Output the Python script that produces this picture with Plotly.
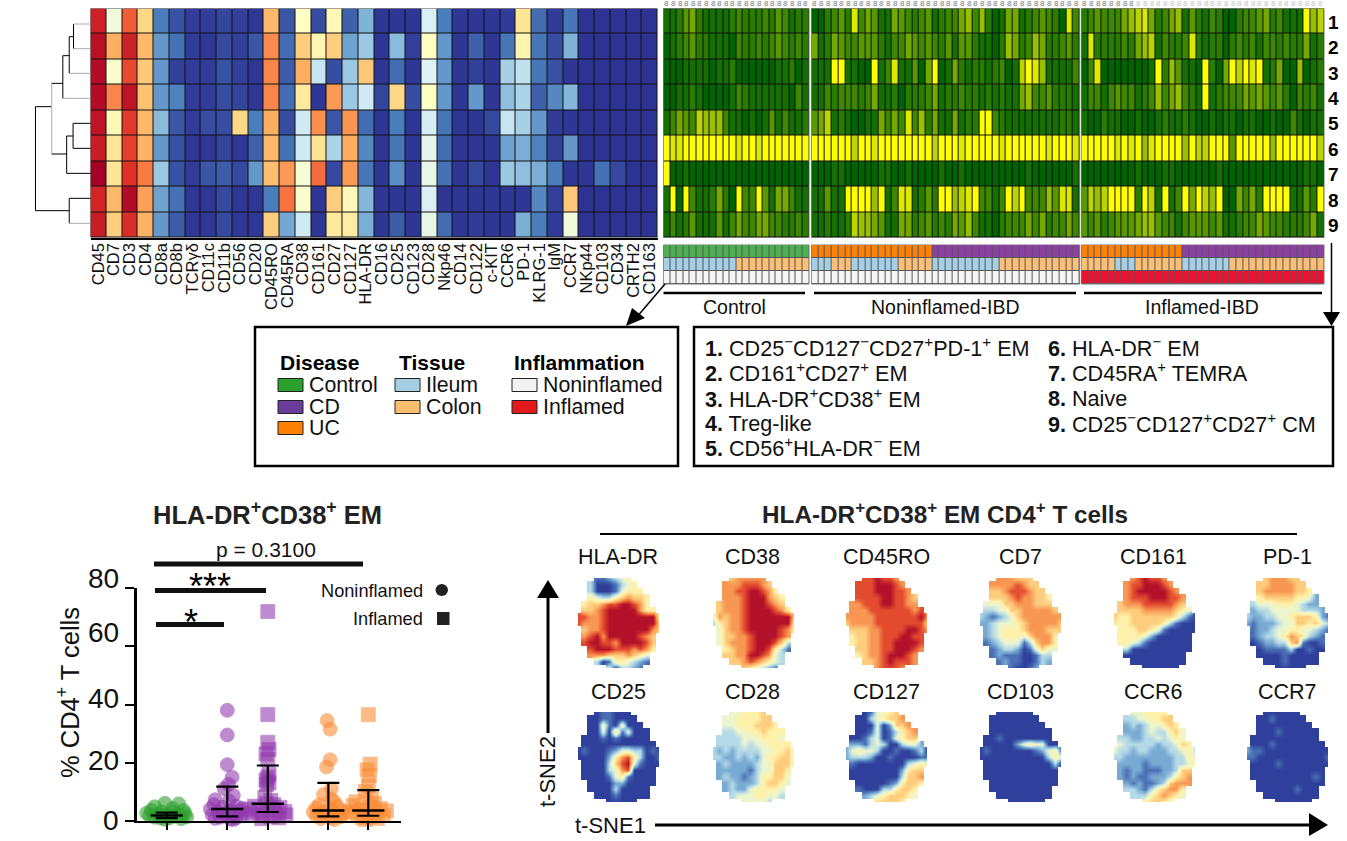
import plotly.graph_objects as go

W, H = 1347, 841
FONT = "Liberation Sans"

# ---------- marker heatmap ----------
markers = ["CD45","CD7","CD3","CD4","CD8a","CD8b","TCRγδ","CD11c","CD11b","CD56","CD20","CD45RO","CD45RA","CD38","CD161","CD27","CD127","HLA-DR","CD16","CD25","CD123","CD28","Nkp46","CD14","CD122","c-KIT","CCR6","PD-1","KLRG-1","IgM","CCR7","NKp44","CD103","CD34","CRTH2","CD163"]
marker_r1 = [.92,.47,.82,.60,.15,.07,.02,.02,.04,.03,.01,.66,.08,.50,.06,.52,.10,.25,.01,.01,.01,.42,.15,.01,.01,.01,.02,.57,.12,.02,.14,0,0,0,0,0]
marker_r2 = [.96,.68,.92,.66,.20,.13,.02,.01,.05,.03,.08,.75,.12,.62,.53,.62,.22,.30,.01,.27,.03,.50,.20,.01,.10,.01,.14,.53,.14,.06,.25,0,0,0,0,0]
marker_r3 = [.97,.49,.85,.63,.20,.03,.02,.02,.07,.03,.01,.76,.09,.68,.38,.06,.30,.63,.01,.12,.01,.43,.20,.01,.03,.01,.32,.37,.14,.07,.01,0,0,0,0,0]
marker_r4 = [.97,.76,.95,.64,.20,.16,.02,.02,.06,.04,.01,.76,.12,.56,.01,.72,.30,.40,.04,.60,.06,.50,.20,.01,.20,.01,.28,.33,.10,.17,.26,0,0,0,0,0]
marker_r5 = [.95,.52,.87,.66,.27,.08,.02,.06,.06,.60,.15,.68,.06,.40,.74,.08,.73,.12,.01,.15,.01,.41,.14,.01,.01,.05,.38,.32,.20,.02,.01,0,0,0,0,0]
marker_r6 = [.93,.57,.86,.67,.20,.07,.01,.01,.04,.01,.10,.66,.13,.40,.58,.33,.68,.17,.01,.14,.01,.44,.12,.01,.01,.01,.22,.24,.16,.03,.20,0,0,0,0,0]
marker_r7 = [1,.57,.88,.78,.30,.07,.02,.08,.09,.05,.20,.65,.72,.48,.80,.05,.72,.14,.01,.18,.01,.45,.13,.01,.05,.01,.30,.28,.24,.15,.01,.01,.13,.05,0,0]
marker_r8 = [.91,.66,.97,.71,.22,.13,.01,.01,.05,.01,.01,.15,.79,.49,.01,.62,.52,.26,.01,.01,.01,.42,.01,.01,.01,.01,.01,.01,.17,.03,.63,0,0,0,0,0]
marker_r9 = [.93,.62,.89,.67,.20,.09,.01,.01,.05,.01,.01,.62,.23,.40,.01,.56,.55,.24,.01,.09,.01,.45,.12,.01,.02,.01,.01,.24,.15,.02,.47,0,0,0,0,0]
marker_z = [marker_r1,marker_r2,marker_r3,marker_r4,marker_r5,marker_r6,marker_r7,marker_r8,marker_r9]
cluster_ids = ["1","2","3","4","5","6","7","8","9"]

# ---------- cluster abundance per sample ----------
control_rows = [
 [1,1,2,4,5,2,1,1,1,1,2,3,2,2,2,3,2,4,3,1,2,2],
 [0,1,2,3,4,2,2,1,1,1,0,3,2,2,3,2,3,4,3,2,3,2],
 [0,0,0,1,1,1,1,0,1,1,2,0,0,0,0,0,0,1,1,2,0,1],
 [0,0,1,1,2,1,0,0,0,0,1,3,2,1,1,1,1,1,1,0,3,1],
 [1,3,5,4,3,7,6,6,6,3,1,1,0,1,0,1,4,1,3,1,1,2],
 [9,8,8,9,9,9,9,9,9,9,9,8,9,9,8,9,9,9,9,9,9,9],
 [9,0,0,1,0,0,0,0,0,0,0,0,0,0,0,0,0,0,0,0,0,0],
 [1,9,0,9,3,1,1,2,5,2,0,9,3,3,9,4,1,5,5,3,1,1],
 [1,3,1,2,4,1,1,1,4,1,3,5,3,3,5,5,3,3,2,2,3,2]]
noninflamed_rows = [
 [0,0,2,3,4,2,8,3,5,4,1,1,5,4,3,2,3,4,1,2,3,3,5,6,3,6,2,0,1,5,5,1,2,3,4,3,2,0,8,3],
 [5,1,2,5,4,3,3,4,4,4,2,1,3,3,5,4,3,4,3,2,4,1,4,4,2,1,1,0,2,6,5,2,3,6,5,2,2,3,4,2],
 [1,1,1,9,9,1,1,0,0,9,1,3,8,1,1,4,0,5,9,0,1,5,2,1,2,2,1,2,3,0,1,7,9,8,6,1,1,1,1,3],
 [1,1,3,2,3,3,3,2,3,5,1,1,2,0,2,2,2,3,5,1,2,2,3,2,2,1,2,1,2,1,1,5,6,3,3,4,2,2,2,1],
 [4,5,7,1,2,1,0,0,1,1,5,3,5,3,8,3,6,2,5,1,1,5,1,2,2,9,9,3,2,1,1,1,1,1,1,1,1,2,2,1],
 [9,9,9,9,9,9,7,9,9,8,9,9,9,9,9,9,9,9,7,9,9,9,8,9,9,9,9,9,8,9,9,9,9,9,9,8,9,9,9,8],
 [0,0,0,1,1,0,0,0,0,0,1,1,0,0,1,0,0,0,0,1,0,0,1,0,0,0,0,0,0,0,0,0,1,0,0,0,0,0,0,1],
 [1,1,4,1,1,9,9,9,9,6,9,1,3,8,8,1,2,4,2,9,9,6,7,8,9,3,3,1,3,9,7,9,3,3,3,6,4,8,8,1],
 [1,1,2,1,1,2,7,6,6,5,4,1,1,5,5,2,3,4,2,3,2,5,4,6,3,1,1,0,2,3,3,3,5,3,5,2,3,3,5,3]]
inflamed_rows = [
 [2,3,4,3,3,3,5,6,7,8,5,2,3,5,6,1,4,2,1,3,2,0,0,2,3,3,4,5,2,3,1,1,1,9,6,7],
 [1,8,2,2,2,2,3,2,5,6,7,1,3,2,2,3,8,2,1,2,2,0,2,3,2,3,1,3,3,2,3,2,2,5,1,2],
 [0,3,8,0,0,0,0,0,0,0,1,9,2,6,4,1,1,0,9,2,0,5,9,7,9,8,9,1,2,5,0,0,6,0,1,2],
 [1,3,3,1,3,4,3,3,1,2,3,6,3,5,6,3,2,1,9,1,2,3,3,3,5,4,5,4,3,4,2,0,3,2,3,1],
 [1,0,0,2,1,1,0,0,1,0,0,1,2,1,1,2,1,0,0,1,0,1,1,0,1,1,0,0,1,0,0,3,1,0,1,1],
 [9,9,9,9,9,8,9,8,9,6,8,9,9,9,9,6,9,7,7,9,9,9,4,9,9,9,9,9,6,9,9,9,9,9,9,7],
 [0,0,0,0,0,0,0,0,1,0,0,0,1,1,0,0,0,0,0,0,1,0,0,0,0,0,0,0,0,0,0,0,0,1,1,0],
 [4,7,6,7,9,9,9,9,2,9,7,1,9,1,3,9,5,9,7,6,9,0,0,5,3,5,2,9,9,9,9,1,1,4,2,9],
 [4,3,4,2,3,4,4,4,5,6,6,4,3,3,1,3,4,4,4,3,4,1,1,2,3,3,5,4,3,3,2,2,2,3,5,1]]

# ---------- sample annotation tracks ----------
track_names = ["Disease","Tissue","Inflammation"]
control_disease = ["Control"]*22
control_tissue = ["Ileum"]*11+["Colon"]*11
control_inflam = ["Noninflamed"]*22
noninf_disease = ["UC"]*18+["CD"]*22
noninf_tissue = ["Ileum"]*3+["Colon"]*3+["Ileum"]*7+["Colon"]*5+["Ileum"]*10+["Colon"]*12
noninf_inflam = ["Noninflamed"]*40
inf_disease = ["UC"]*15+["CD"]*21
inf_tissue = ["Colon"]*5+["Ileum"]*3+["Colon"]*7+["Ileum"]*7+["Colon"]*14
inf_inflam = ["Inflamed"]*36
track_levels = ["Control","CD","UC","Ileum","Colon","Noninflamed","Inflamed"]
track_colors = ["#4db050","#8e3fa3","#fb8109","#a5cfe6","#fbbf78","#f5f5f5","#ee1030"]

# ---------- dot plot ----------
group_pos = [1, 2, 2.67, 3.67, 4.33]
group_colors = ["#2ca02c","#9238ad","#9238ad","#fb8a32","#fb8a32"]
group_symbols = ["circle","circle","square","circle","square"]
control_y = [6.0,5.8,4.8,4.2,3.6,3.5,3.0,2.9,2.6,2.4,2.2,2.0,1.9,1.8,1.6,1.5,1.3,1.2,1.0,0.9,0.7,0.5]
control_dx = [-.03,.2,-.2,.1,-.25,.28,-.08,.1,-.33,.3,-.15,.03,.2,-.28,-.08,.12,.33,-.2,.05,-.1,.24,-.03]
cd_non_y = [38,29.5,19.3,15,12.5,11,8.7,7.2,6.8,5.5,5,4.6,4.2,4,3.6,3.3,3,2.7,2.4,2.2,2,1.8,1.5,1.2,1,.8,.6,.4]
cd_non_dx = [0,0,0,.08,.02,-.05,.1,-.2,.03,-.22,.15,-.08,.25,-.28,.05,.2,-.15,.3,-.05,.12,-.25,.22,0,-.12,.15,-.2,.05,.1]
cd_inf_y = [72,36.5,27,24.5,23,21,16,15,14,13,12.5,8,7,6,5.5,5,4.6,4,3.6,3.2,3,2.6,2.2,2,1.8,1.4,1,.7]
cd_inf_dx = [0,0,0,.02,-.03,0,.02,0,-.03,.02,-.02,-.05,.05,-.02,.1,-.22,.2,-.3,.03,.28,-.15,.12,-.08,.3,-.25,.05,.18,-.1]
uc_non_y = [34.5,31.5,21,18.5,11,9,7.5,6.5,5.5,5,4.5,4,3.6,3.2,3,2.6,2.2,2,1.6,1.3,1,.7,.4]
uc_non_dx = [-.02,.03,.03,-.03,.05,-.08,.05,.1,-.15,.15,-.2,.03,.22,-.1,-.25,.12,.25,-.05,-.2,.2,.05,-.12,.1]
uc_inf_y = [36.5,19.5,17.5,15.5,12,10,7.5,6.5,6,5.2,4.8,4.2,3.8,3.4,3,2.6,2.2,1.8,1.5,1.1,.8,.4]
uc_inf_dx = [0,.03,-.02,.02,0,-.05,.05,-.2,.1,-.25,.02,.2,-.1,.3,-.3,.08,-.18,.25,.02,-.1,.15,-.05]
medians = [1.8, 4.0, 5.8, 3.5, 3.5]
q_low = [0.9, 1.5, 3.0, 1.5, 1.7]
q_high = [2.8, 11.7, 19.0, 13.0, 10.5]
y_ticks = [0, 20, 40, 60, 80]
y_tick_labels = ["0","20","40","60","80"]

# ---------- t-SNE expression maps (0 low .. 9 high, blank = no cells) ----------
tsne_names = [["HLA-DR","CD38","CD45RO","CD7","CD161","PD-1"],["CD25","CD28","CD127","CD103","CCR6","CCR7"]]
m_hladr = ["   112345","  30001345","  300014555","  5433567665"," 56678899875"," 667899999755 ","88778999999995","87778999999996"," 6778999999976"," 789799999876"," 899887999986","  89998887875","  7776667654","   301554321","     403321"]
m_cd38 = ["   677777","  77788876","  778899875","  7778999765"," 67778999876"," 677789999875","47677899999996","35677899999995"," 4677899999875"," 466778999987"," 467778999863","  56778998531","  6677998743","   667876543","     654321"]
m_cd45ro = ["   889887","  88899987","  888999887","  8888998876"," 77888998877"," 777888888878","77777888888897","67777888888886"," 6667788889987"," 566778889988"," 566778899998","  66778899987","  5677899987","   667898887","     78887"]
m_cd7 = ["   777666","  77778766","  667888766","  6667877665"," 44466777666"," 334466777776","32123467777777","22344456777776"," 2345556777666"," 234555467775"," 123444136775","  12332014644","  1211100133","   121100132","     10012"]
m_cd161 = ["   789887","  78899987","  789999987","  7888999887"," 67778888876"," 666677777654","65566666665310","55566666531000"," 5556654100000"," 555542000000"," 554310000000","  30000000000","  0000000000","   000000000","     000000"]
m_pd1 = ["   677766","  66777766","  677777665","  5666665542"," 34445554322"," 233444443332","32233445666521","21222344665643"," 1223445544321"," 123345765321"," 012233671001","  01111300100","  0000100000","   000100000","     00000"]
m_cd25 = ["   011000","  00110000","  005105000","  0040614000"," 00010100000"," 000000000000","01000124433010","00000257853001"," 0000368941000"," 000034780000"," 000014510000","  00002200000","  0000300000","   000100000","     00000"]
m_cd28 = ["   445556","  44555566","  445556665","  3344556555"," 33334445554"," 333343445555","32323333445564","33223232455664"," 2322223446664"," 222221344665"," 232212355664","  23222356654","  2322455554","   344455443","     44443"]
m_cd127 = ["   014556","  00345667","  000402667","  0014013567"," 00134014566"," 221343003442","24544300100130","23332001000011"," 1000000003454"," 000000002566"," 000000003667","  00000125665","  1000335665","   234566654","     66665"]
m_cd103 = ["   000000","  00000000","  000000000","  0000000000"," 00100000000"," 000002454400","01000000012451","00000000000354"," 0000000000030"," 000000000000"," 000000000000","  00000000000","  0000000000","   000000000","     000000"]
m_ccr6 = ["   445555","  33445566","  232344565","  2223433564"," 33223343454"," 433333233465","43323322233453","33222222223354"," 2222122223345"," 212211122366"," 212112223567","  21211236777","  3321356775","   333567654","     56654"]
m_ccr7 = ["   000000","  00100000","  000000000","  0001000000"," 00000000000"," 000100000000","21100000000000","11000000000001"," 0000100000000"," 000000000000"," 000000000010","  00000000000","  0000001000","   000000000","     000000"]
tsne_maps = [[m_hladr,m_cd38,m_cd45ro,m_cd7,m_cd161,m_pd1],[m_cd25,m_cd28,m_cd127,m_cd103,m_ccr6,m_ccr7]]

# ---------- helpers ----------
fig = go.Figure()
layout_axes = {}
axis_i = [0]
def px(x): return x / W
def py(y): return 1 - y / H

def new_axes(x0, x1, y0, y1, xkw=None, ykw=None):
    axis_i[0] += 1
    i = axis_i[0]
    xn, yn = ("xaxis" if i == 1 else f"xaxis{i}"), ("yaxis" if i == 1 else f"yaxis{i}")
    hidden = dict(visible=False, fixedrange=True)
    xd = dict(hidden, domain=[px(x0), px(x1)], anchor=f"y{i if i>1 else ''}")
    yd = dict(hidden, domain=[py(y1), py(y0)], anchor=f"x{i if i>1 else ''}")
    xd.update(xkw or {}); yd.update(ykw or {})
    layout_axes[xn] = xd; layout_axes[yn] = yd
    return f"x{i if i>1 else ''}", f"y{i if i>1 else ''}"

shapes, annos = [], []
def line(x0, y0, x1, y1, color="black", w=2.5):
    shapes.append(dict(type="line", xref="paper", yref="paper", x0=px(x0), x1=px(x1), y0=py(y0), y1=py(y1), line=dict(color=color, width=w), layer="above"))
def rect(x0, y0, x1, y1, fill="rgba(0,0,0,0)", color="black", w=1, layer="above"):
    shapes.append(dict(type="rect", xref="paper", yref="paper", x0=px(x0), x1=px(x1), y0=py(y0), y1=py(y1), fillcolor=fill, line=dict(color=color, width=w), layer=layer))
def tri(p1, p2, p3, color="black"):
    path = "M {} {} L {} {} L {} {} Z".format(px(p1[0]), py(p1[1]), px(p2[0]), py(p2[1]), px(p3[0]), py(p3[1]))
    shapes.append(dict(type="path", xref="paper", yref="paper", path=path, fillcolor=color, line=dict(color=color, width=0), layer="above"))
def text(x, y, s, size=16, anchor="center", color="#111", angle=0):
    annos.append(dict(x=px(x), y=py(y), xref="paper", yref="paper", text=s, showarrow=False, xanchor=anchor, yanchor="middle",
                      font=dict(family=FONT, size=size, color=color), textangle=angle))

# ---------- marker heatmap ----------
MX0, MX1, RY0, RY1 = 90.5, 657.5, 8.5, 237.5
rect(MX0, RY0, MX1, RY1, fill="#111", color="#111", w=0, layer="below")
marker_scale = [[0,"#2d3393"],[.08,"#3a56a5"],[.15,"#4a7dbb"],[.25,"#7fb3d8"],[.35,"#b6dcec"],[.43,"#dff3f7"],[.5,"#ffffc4"],
                [.58,"#fee28f"],[.68,"#fdae61"],[.78,"#f97b44"],[.88,"#e03127"],[1,"#a50026"]]
xa, ya = new_axes(MX0, MX1, RY0, RY1,
    dict(visible=True, type="category", side="bottom", tickangle=-90, ticks="", ticklabelstandoff=-3,
         showline=True, linecolor="black", linewidth=2, tickfont=dict(family=FONT, size=16.5, color="#111"), showgrid=False, automargin=False, dtick=1),
    dict(range=[8.5, -0.5]))
fig.add_trace(go.Heatmap(z=marker_z, x=markers, y=list(range(9)), colorscale=marker_scale, zmin=0, zmax=1, showscale=False,
                         xgap=1, ygap=1, xaxis=xa, yaxis=ya, hoverinfo="skip"))

# ---------- dendrogram (zoomed-crop units: x/2.34, y/3) ----------
dend = [(83,320,83,632,"k"),(83,320,121,320,"k"),(83,632,162,632,"k"),(121,250,121,462,"g"),(121,250,147,250,"k"),(121,462,156,462,"k"),
        (147,167,147,295,"k"),(147,295,212,295,"g"),(147,167,162,167,"k"),(162,110,162,220,"k"),(162,220,212,220,"g"),(162,110,172,110,"k"),
        (172,72,172,146,"k"),(172,72,212,72,"g"),(172,146,212,146,"g"),(156,408,156,520,"k"),(156,520,212,520,"k"),(156,408,171,408,"k"),
        (171,370,171,445,"k"),(171,370,212,370,"k"),(171,445,212,445,"k"),(162,595,162,670,"k"),(162,595,212,595,"k"),(162,670,212,670,"g")]
for a, b, c, d, k in dend:
    line(a/2.34, b/3, c/2.34, d/3, color="black" if k == "k" else "#aaaaaa", w=1)

# ---------- abundance heatmaps and tracks ----------
green_scale = [[0, "#006400"], [.33, "#3c8800"], [.55, "#73a800"], [.78, "#bcd500"], [1, "#ffff00"]]
panels = [
    (663.5, 809.0, control_rows, [control_disease, control_tissue, control_inflam]),
    (811.6, 1079.6, noninflamed_rows, [noninf_disease, noninf_tissue, noninf_inflam]),
    (1081.4, 1324.0, inflamed_rows, [inf_disease, inf_tissue, inf_inflam]),
]
n_lv = len(track_levels)
track_scale = []
for i, c in enumerate(track_colors):
    track_scale += [[i / n_lv, c], [(i + 1) / n_lv, c]]
sample_counter = 0
for x0, x1, rows, tracks in panels:
    rect(x0, RY0, x1, RY1, fill="#111", color="#777", w=1, layer="below")
    xa, ya = new_axes(x0, x1, RY0, RY1, dict(range=[-.5, len(rows[0]) - .5]), dict(range=[8.5, -.5]))
    fig.add_trace(go.Heatmap(z=rows, colorscale=green_scale, zmin=0, zmax=9, showscale=False, xgap=1, ygap=1, xaxis=xa, yaxis=ya, hoverinfo="skip"))
    rect(x0, 245, x1, 284, fill="#555", color="#777", w=1, layer="below")
    xa, ya = new_axes(x0, x1, 245, 284, dict(range=[-.5, len(rows[0]) - .5]), dict(range=[2.5, -.5]))
    codes = [[track_levels.index(v) + .5 for v in t] for t in tracks]
    fig.add_trace(go.Heatmap(z=codes, colorscale=track_scale, zmin=0, zmax=n_lv, showscale=False, xgap=1, ygap=1, xaxis=xa, yaxis=ya, hoverinfo="skip"))
    cw = (x1 - x0) / len(rows[0])
    for k in range(len(rows[0])):
        text(x0 + cw * (k + .5), 3, "8", size=8, color="#777" if sample_counter < 70 else "#c4c4c4")
        sample_counter += 1

for i, cid in enumerate(cluster_ids):
    text(1333, RY0 + (RY1 - RY0) / 9 * (i + .5) + 1, f"<b>{cid}</b>", size=19, color="black")

line(663.5, 293, 805, 293); line(814, 293, 1076, 293); line(1084, 293, 1322, 293)
text(734.5, 306.5, "Control", 19.5); text(945, 306.5, "Noninflamed-IBD", 19.5); text(1202, 306.5, "Inflamed-IBD", 19.5)

# ---------- arrows to boxes ----------
line(1331.5, 243, 1331.5, 315, w=1.5); tri((1323, 312), (1340, 312), (1331.5, 326))
line(665, 284, 636, 318, w=1.5); tri((626, 326), (632, 308), (645, 318))

# ---------- legend boxes ----------
rect(255, 327, 678, 466, color="black", w=2.5)
rect(694, 327, 1333, 466, color="black", w=2.5)
text(278, 362.5, "<b>Disease</b>", 21, "left", "black")
text(397, 362.5, "<b>Tissue</b>", 21, "left", "black")
text(512, 362.5, "<b>Inflammation</b>", 21, "left", "black")
legend_items = [(278, 385, "Control"), (278, 407, "CD"), (278, 428, "UC"), (395, 385, "Ileum"), (395, 407, "Colon"), (512, 385, "Noninflamed"), (512, 407, "Inflamed")]
legend_fill = {"Control":"#2ca02c","CD":"#6a3d9a","UC":"#ff7f00","Ileum":"#a6cee3","Colon":"#fdbf6f","Noninflamed":"#f2f2f2","Inflamed":"#e31a1c"}
for x, y, name in legend_items:
    rect(x, y - 6.5, x + 25, y + 6.5, fill=legend_fill[name], color="#222", w=1)
    text(x + 29, y, name, 21.3, "left")
cluster_left = [("1.", "CD25<sup>−</sup>CD127<sup>−</sup>CD27<sup>+</sup>PD-1<sup>+</sup> EM"), ("2.", "CD161<sup>+</sup>CD27<sup>+</sup> EM"), ("3.", "HLA-DR<sup>+</sup>CD38<sup>+</sup> EM"), ("4.", "Treg-like"), ("5.", "CD56<sup>+</sup>HLA-DR<sup>−</sup> EM")]
cluster_right = [("6.", "HLA-DR<sup>−</sup> EM"), ("7.", "CD45RA<sup>+</sup> TEMRA"), ("8.", "Naive"), ("9.", "CD25<sup>−</sup>CD127<sup>+</sup>CD27<sup>+</sup> CM")]
cluster_ys = [347, 372, 398, 423, 447]
for (n, s), y in zip(cluster_left, cluster_ys):
    text(703, y, f"<b>{n}</b> {s}", 21.6, "left")
for (n, s), y in zip(cluster_right, cluster_ys):
    text(1046, y, f"<b>{n}</b> {s}", 21.6, "left")

# ---------- dot plot ----------
xa, ya = new_axes(136.7, 401, 588.3, 820.7,
    dict(visible=True, range=[.504, 4.87], tickmode="array", tickvals=group_pos, showticklabels=False, ticks="outside", ticklen=7, tickwidth=2, tickcolor="black",
         showline=True, linecolor="black", linewidth=2, showgrid=False, zeroline=False),
    dict(visible=True, range=[0, 80], tickmode="array", tickvals=y_ticks, showticklabels=False, ticks="outside", ticklen=9, tickwidth=2, tickcolor="black",
         showline=True, linecolor="black", linewidth=2.5, showgrid=False, zeroline=False))
series = [(control_y, control_dx), (cd_non_y, cd_non_dx), (cd_inf_y, cd_inf_dx), (uc_non_y, uc_non_dx), (uc_inf_y, uc_inf_dx)]
for pos, col, sym, (ys, dxs) in zip(group_pos, group_colors, group_symbols, series):
    fig.add_trace(go.Scatter(x=[pos + d for d in dxs], y=ys, mode="markers", cliponaxis=False, xaxis=xa, yaxis=ya, hoverinfo="skip",
                             marker=dict(size=14, symbol=sym, color=col, opacity=.58, line=dict(color=col, width=.8))))
fig.add_trace(go.Scatter(x=group_pos, y=medians, mode="markers", cliponaxis=False, xaxis=xa, yaxis=ya, hoverinfo="skip",
                         marker=dict(symbol="line-ew", size=23, line=dict(color="black", width=2.5)),
                         error_y=dict(type="data", symmetric=False, array=[h - m for h, m in zip(q_high, medians)],
                                      arrayminus=[m - l for m, l in zip(medians, q_low)], color="black", thickness=2.2, width=11)))
for lab, y in zip(y_tick_labels, [820, 760, 698, 632, 578]):
    text(121, y, lab, 28, "right")
text(68, 693, "% CD4<sup>+</sup> T cells", 25.5, angle=-90)
text(267, 513, "<b>HLA-DR<sup>+</sup>CD38<sup>+</sup> EM</b>", 25.5, color="#222")
text(266, 549, "p = 0.3100", 21)
line(154, 564, 363, 564, "#111", 5); line(155, 590.5, 266, 590.5, "#111", 5); line(156, 624.5, 224, 624.5, "#111", 5)
text(210, 586, "***", 36, color="black"); text(191, 622, "*", 36, color="black")
text(425, 591, "Noninflamed", 18.2, "right"); text(425, 619, "Inflamed", 18.2, "right")
shapes.append(dict(type="circle", xref="paper", yref="paper", x0=px(435.5), x1=px(448), y0=py(596), y1=py(584), fillcolor="#222", line=dict(width=0)))
rect(437, 612, 449.5, 625, fill="#222", color="#222", w=0)

# ---------- t-SNE maps ----------
tsne_scale = [[0,"#2f409c"],[.11,"#4a6fb4"],[.22,"#78a9d2"],[.33,"#b2d9e8"],[.44,"#eaf5cf"],[.56,"#fff1a8"],[.67,"#fdcb7c"],[.78,"#f79652"],[.89,"#e24a2e"],[1,"#b3112a"]]
col_x0 = [578, 713, 846, 980, 1114, 1247]
row_y0 = [578, 712]
label_y = [557, 692]
label_x = [618, 752, 886, 1020, 1153, 1287]

for r in range(2):
    for c in range(6):
        grid = [[(int(ch) if ch != " " else None) for ch in row.ljust(14)] for row in tsne_maps[r][c]]
        xa, ya = new_axes(col_x0[c], col_x0[c] + 81, row_y0[r], row_y0[r] + 90,
                          dict(range=[0, 13]), dict(range=[14, 0]))
        fig.add_trace(go.Heatmap(z=grid, colorscale=tsne_scale, zmin=0, zmax=9, showscale=False, zsmooth="best", xaxis=xa, yaxis=ya, hoverinfo="skip"))
        text(label_x[c], label_y[r], tsne_names[r][c], 21.5)

text(945, 513, "<b>HLA-DR<sup>+</sup>CD38<sup>+</sup> EM CD4<sup>+</sup> T cells</b>", 24.3, color="#222")
line(600, 534, 1297, 534, "black", 2)
line(548, 733, 548, 598, "black", 3); tri((537, 598), (559, 598), (548, 580))
text(547, 772, "t-SNE2", 22, angle=-90)
text(610, 825, "t-SNE1", 22)
line(655, 825, 1312, 825, "black", 3); tri((1309, 813), (1309, 836), (1328, 825))

fig.update_layout(width=W, height=H, autosize=False, margin=dict(l=0, r=0, t=0, b=0), paper_bgcolor="white", plot_bgcolor="rgba(0,0,0,0)",
                  showlegend=False, shapes=shapes, annotations=annos, font=dict(family=FONT), **layout_axes)
fig.write_html("out.html", post_script="document.body.style.margin='0';document.body.style.overflow='hidden';", config=dict(displayModeBar=False))
